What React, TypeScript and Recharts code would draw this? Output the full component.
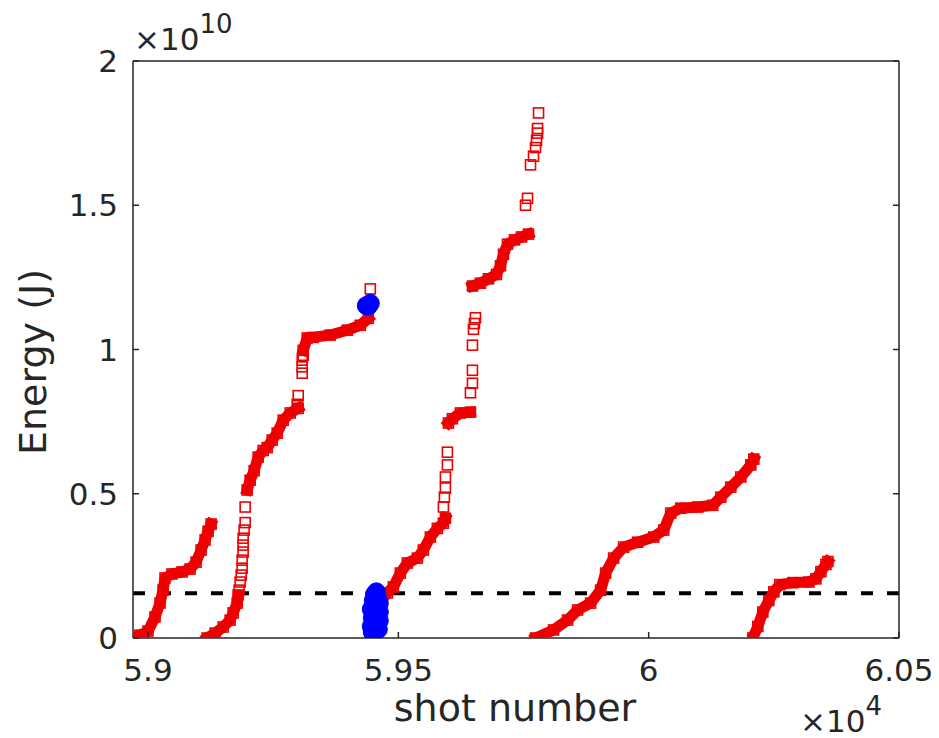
import React from "react";
import { Scatter, ScatterChart, XAxis, YAxis, ReferenceLine } from "recharts";

const RED = "#ee0000";
const BLUE = "#0000ff";
const AXIS = "#262626";
const FONT = "DejaVu Sans";

// x: shot number, y: energy (J)
// runs where the markers overlap into a solid band
const s1Dense = [[58970, 0], [58984, 0.1e9], [59000, 0.24e9], [59014, 0.73e9], [59024, 1.21e9], [59030, 1.66e9], [59034, 2.08e9], [59048, 2.22e9], [59068, 2.29e9], [59084, 2.39e9], [59096, 2.63e9], [59106, 3.05e9], [59114, 3.4e9], [59120, 3.7e9], [59126, 3.95e9]];
const s2DenseA = [[59118, 0], [59134, 0.17e9], [59150, 0.38e9], [59164, 0.62e9], [59170, 0.87e9], [59178, 1.21e9], [59180, 1.49e9]];
const s2DenseB = [[59198, 5.13e9], [59204, 5.47e9], [59212, 5.8e9], [59220, 6.27e9], [59230, 6.5e9], [59238, 6.6e9], [59248, 6.86e9], [59258, 7.1e9], [59270, 7.55e9], [59284, 7.8e9], [59300, 7.96e9]];
const s2DenseC = [[59310, 9.97e9], [59318, 10.4e9], [59330, 10.42e9], [59364, 10.5e9], [59398, 10.67e9], [59424, 10.84e9], [59440, 11.08e9]];
const s3DenseA = [[59444, 0], [59448, 0.4e9], [59456, 0.9e9], [59466, 1.3e9], [59478, 1.56e9], [59490, 1.77e9], [59504, 2.25e9], [59518, 2.6e9], [59538, 2.77e9], [59550, 3.05e9], [59564, 3.5e9], [59578, 3.8e9], [59590, 3.98e9], [59594, 4.15e9]];
const s3DenseB = [[59600, 7.45e9], [59608, 7.6e9], [59624, 7.8e9], [59644, 7.83e9]];
const s3DenseC = [[59648, 12.2e9], [59664, 12.3e9], [59680, 12.45e9], [59696, 12.6e9], [59704, 12.9e9], [59710, 13.3e9], [59718, 13.65e9], [59732, 13.8e9], [59746, 13.9e9], [59760, 14.0e9]];
const s4Dense = [[59774, 0], [59810, 0.28e9], [59838, 0.62e9], [59858, 0.97e9], [59884, 1.21e9], [59904, 1.66e9], [59914, 2.25e9], [59930, 2.77e9], [59950, 3.15e9], [59978, 3.32e9], [60010, 3.5e9], [60030, 3.74e9], [60044, 4.33e9], [60064, 4.5e9], [60098, 4.54e9], [60128, 4.6e9], [60144, 4.88e9], [60164, 5.23e9], [60184, 5.58e9], [60204, 6.0e9], [60210, 6.2e9]];
const s5Dense = [[60208, 0], [60218, 0.4e9], [60228, 0.9e9], [60240, 1.3e9], [60250, 1.6e9], [60262, 1.85e9], [60288, 1.92e9], [60320, 1.94e9], [60334, 2.05e9], [60344, 2.3e9], [60354, 2.55e9], [60358, 2.65e9]];

// isolated shots (open squares)
const s2Sparse = [[59182, 1.66e9], [59184, 1.94e9], [59186, 2.18e9], [59188, 2.42e9], [59188, 2.7e9], [59190, 2.98e9], [59190, 3.22e9], [59190, 3.46e9], [59192, 3.74e9], [59194, 4.0e9], [59194, 4.54e9], [59298, 8.1e9], [59300, 8.4e9], [59308, 9.18e9], [59308, 9.4e9], [59308, 9.63e9], [59310, 9.8e9], [59444, 12.1e9]];
const s3Sparse = [[59590, 4.54e9], [59592, 4.88e9], [59594, 5.2e9], [59594, 5.58e9], [59598, 6.0e9], [59598, 6.44e9], [59644, 8.5e9], [59648, 8.83e9], [59648, 9.28e9], [59648, 10.15e9], [59650, 10.7e9], [59652, 10.9e9], [59654, 11.1e9], [59754, 15.0e9], [59758, 15.24e9], [59764, 16.4e9], [59770, 16.7e9], [59774, 17.0e9], [59776, 17.25e9], [59778, 17.5e9], [59778, 17.66e9], [59780, 18.2e9]];

// highlighted shots
const blueTop = [[59436, 11.52e9], [59444, 11.6e9], [59440, 11.5e9]];
const blueLow = [[59448, 0.2e9], [59454, 0.25e9], [59460, 0.3e9], [59446, 0.4e9], [59456, 0.5e9], [59462, 0.6e9], [59448, 0.7e9], [59454, 0.8e9], [59462, 0.9e9], [59446, 1.0e9], [59456, 1.1e9], [59462, 1.2e9], [59450, 1.3e9], [59458, 1.4e9], [59452, 1.5e9], [59456, 1.6e9]];

const threshold = 1.55e9;

const xTicks = [59000, 59500, 60000, 60500];
const xTickLabels = ["5.9", "5.95", "6", "6.05"];
const yTicks = [0, 5e9, 1e10, 1.5e10, 2e10];
const yTickLabels = ["0", "0.5", "1", "1.5", "2"];

const pts = (arr: number[][]) => arr.map(([x, y]) => ({ x, y }));

const denseRuns = [s1Dense, s2DenseA, s2DenseB, s2DenseC, s3DenseA, s3DenseB, s3DenseC, s4Dense, s5Dense];

const Square = (p: any) => (
  <rect x={p.cx - 5} y={p.cy - 5} width={10} height={10} fill="none" stroke={RED} strokeWidth={1.6} />
);
const Dot = (p: any) => <circle cx={p.cx} cy={p.cy} r={9} fill={BLUE} stroke={BLUE} />;

// tick props arrive offset by tickSize (6) from the axis line
const BottomTick = ({ x, y, payload }: any) => (
  <g>
    <line x1={x} x2={x} y1={y - 6} y2={y - 12} stroke={AXIS} strokeWidth={1.5} />
    <text x={x} y={y - 6 + 43} textAnchor="middle" fontSize={31} fontFamily={FONT} fill={AXIS}>
      {xTickLabels[xTicks.indexOf(payload.value)]}
    </text>
  </g>
);
const TopTick = ({ x, y }: any) => <line x1={x} x2={x} y1={y + 6} y2={y + 12} stroke={AXIS} strokeWidth={1.5} />;
const LeftTick = ({ x, y, payload }: any) => (
  <g>
    <line x1={x + 6} x2={x + 12} y1={y} y2={y} stroke={AXIS} strokeWidth={1.5} />
    <text x={x + 6 - 15} y={y + 11} textAnchor="end" fontSize={31} fontFamily={FONT} fill={AXIS}>
      {yTickLabels[yTicks.indexOf(payload.value)]}
    </text>
  </g>
);
const RightTick = ({ x, y }: any) => <line x1={x - 6} x2={x - 12} y1={y} y2={y} stroke={AXIS} strokeWidth={1.5} />;

export default function App() {
  return (
    <div style={{ position: "absolute", left: 0, top: 0, width: 939, height: 738, background: "#fff" }}>
      <ScatterChart width={939} height={738} margin={{ top: 41, right: 20, bottom: 60, left: 93 }}>
        <XAxis
          dataKey="x"
          type="number"
          domain={[58970, 60500]}
          allowDataOverflow
          ticks={xTicks}
          height={40}
          tickSize={6}
          tickMargin={0}
          tickLine={false}
          tick={<BottomTick />}
          axisLine={{ stroke: AXIS, strokeWidth: 1.5 }}
        />
        <XAxis
          xAxisId="top"
          orientation="top"
          type="number"
          domain={[58970, 60500]}
          allowDataOverflow
          ticks={xTicks}
          height={20}
          tickSize={6}
          tickMargin={0}
          tickLine={false}
          tick={<TopTick />}
          axisLine={{ stroke: AXIS, strokeWidth: 1.5 }}
        />
        <YAxis
          dataKey="y"
          type="number"
          domain={[0, 2e10]}
          allowDataOverflow
          ticks={yTicks}
          width={40}
          tickSize={6}
          tickMargin={0}
          tickLine={false}
          tick={<LeftTick />}
          axisLine={{ stroke: AXIS, strokeWidth: 1.5 }}
        />
        <YAxis
          yAxisId="right"
          orientation="right"
          type="number"
          domain={[0, 2e10]}
          allowDataOverflow
          ticks={yTicks}
          width={20}
          tickSize={6}
          tickMargin={0}
          tickLine={false}
          tick={<RightTick />}
          axisLine={{ stroke: AXIS, strokeWidth: 1.5 }}
        />
        {denseRuns.map((run, i) => (
          <Scatter
            key={"d" + i}
            data={pts(run)}
            fill={RED}
            line={{ stroke: RED, strokeWidth: 11, strokeLinejoin: "round", strokeLinecap: "square" }}
            shape={Square}
            isAnimationActive={false}
          />
        ))}
        <Scatter data={pts(s2Sparse)} fill={RED} shape={Square} isAnimationActive={false} />
        <Scatter data={pts(s3Sparse)} fill={RED} shape={Square} isAnimationActive={false} />
        <Scatter data={pts(blueLow)} fill={BLUE} shape={Dot} isAnimationActive={false} />
        <Scatter data={pts(blueTop)} fill={BLUE} shape={Dot} isAnimationActive={false} />
        <ReferenceLine y={threshold} stroke="#000" strokeWidth={4} strokeDasharray="12 14" />
      </ScatterChart>
      <svg width={939} height={738} style={{ position: "absolute", left: 0, top: 0, pointerEvents: "none" }}>
        <text x={134} y={50} fontSize={31} fontFamily={FONT} fill={AXIS}>
          ×10<tspan fontSize={26} dy={-17}>10</tspan>
        </text>
        <text x={800} y={732} fontSize={31} fontFamily={FONT} fill={AXIS}>
          ×10<tspan fontSize={26} dy={-17}>4</tspan>
        </text>
        <text x={515} y={721} textAnchor="middle" fontSize={38} fontFamily={FONT} fill={AXIS}>
          shot number
        </text>
        <text
          x={0}
          y={0}
          transform="translate(46 362) rotate(-90)"
          textAnchor="middle"
          fontSize={38}
          fontFamily={FONT}
          fill={AXIS}
        >
          Energy (J)
        </text>
      </svg>
    </div>
  );
}
